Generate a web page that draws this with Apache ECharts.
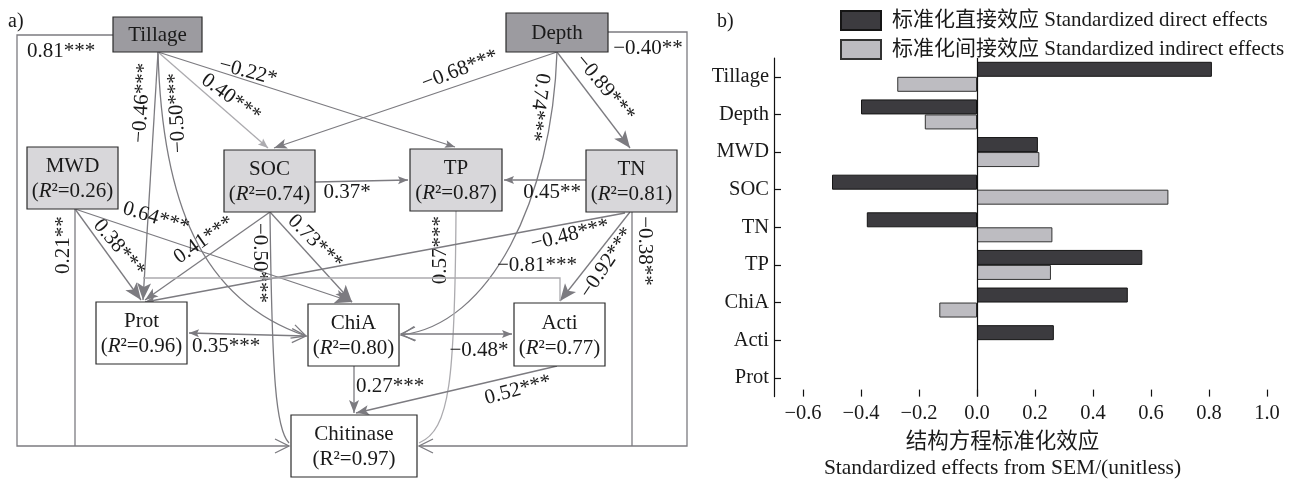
<!DOCTYPE html>
<html>
<head>
<meta charset="utf-8">
<script src="https://cdn.jsdelivr.net/npm/echarts@6/dist/echarts.min.js"></script>
<style>
html, body { margin: 0; padding: 0; background: #fff; }
#main { width: 1294px; height: 486px; }
</style>
</head>
<body>
<div id="main"></div>
<script>
// ---- panel b: standardized effects on chitinase ----
var effectVars = ['Tillage', 'Depth', 'MWD', 'SOC', 'TN', 'TP', 'ChiA', 'Acti', 'Prot'];
var directEffects = [0.81, -0.40, 0.21, -0.50, -0.38, 0.57, 0.52, 0.265, null];
var indirectEffects = [-0.275, -0.18, 0.215, 0.66, 0.26, 0.255, -0.13, null, null];
var effectTicks = [-0.6, -0.4, -0.2, 0.0, 0.2, 0.4, 0.6, 0.8, 1.0];

// ---- panel a: SEM path diagram ----
var nodeNames = ['Tillage', 'Depth', 'MWD', 'SOC', 'TP', 'TN', 'Prot', 'ChiA', 'Acti', 'Chitinase'];
var nodeR2 = [null, null, 0.26, 0.74, 0.87, 0.81, 0.96, 0.80, 0.77, 0.97];
var pathFrom = ['Tillage', 'Depth', 'MWD', 'TN', 'Tillage', 'Tillage', 'Tillage', 'Tillage', 'Depth', 'Depth',
                'Depth', 'SOC', 'TN', 'MWD', 'MWD', 'SOC', 'SOC', 'SOC', 'TP', 'TN',
                'TN', 'Prot', 'Prot', 'ChiA', 'ChiA', 'Acti'];
var pathTo = ['Chitinase', 'Chitinase', 'Chitinase', 'Chitinase', 'Prot', 'ChiA', 'SOC', 'TP', 'SOC', 'TN',
              'ChiA', 'TP', 'TP', 'Prot', 'ChiA', 'Prot', 'Chitinase', 'ChiA', 'Chitinase', 'Prot',
              'Acti', 'Acti', 'ChiA', 'Acti', 'Chitinase', 'Chitinase'];
var pathCoef = [0.81, -0.40, 0.21, -0.38, -0.46, -0.50, 0.40, -0.22, -0.68, -0.89,
                0.74, 0.37, 0.45, 0.38, 0.64, 0.41, -0.50, 0.73, 0.57, -0.48,
                -0.92, -0.81, 0.35, -0.48, 0.27, 0.52];
var pathSig = ['***', '**', '**', '**', '***', '***', '***', '*', '***', '***',
               '***', '*', '**', '***', '***', '***', '***', '***', '***', '***',
               '***', '***', '***', '*', '***', '***'];

// diagram layout (panel units = pixels of the left panel)
var nodeBoxes = [[113, 17, 202, 52], [506, 13, 608, 52], [27, 147, 118, 209], [224, 150, 315, 212],
                 [410, 149, 502, 211], [586, 150, 677, 212], [96, 302, 187, 364], [308, 304, 399, 366],
                 [514, 303, 605, 366], [291, 415, 417, 477]];
var nodeTone = ['dark', 'dark', 'light', 'light', 'light', 'light', 'white', 'white', 'white', 'white'];

// route: points (4 points + bez = cubic curve), heads [start,end], light line, label pos, label angle
var pathRoutes = [
    {pts: [[113, 35], [17, 35], [17, 446], [289, 446]], heads: [null, 'open'], lab: [61, 51], rot: 0},
    {pts: [[608, 32], [687, 32], [687, 446], [419, 446]], heads: [null, 'open'], lab: [648, 48], rot: 0},
    {pts: [[75, 209], [75, 446]], heads: [null, null], lab: [63, 245], rot: 90},
    {pts: [[632, 212], [632, 446]], heads: [null, null], lab: [645, 251], rot: -90},
    {pts: [[158, 52], [143, 300]], heads: [null, 'big'], lab: [142, 103], rot: 86},
    {pts: [[158, 52], [162, 200], [200, 300], [306, 336]], bez: true, heads: [null, 'open'], lab: [177, 113], rot: 93},
    {pts: [[158, 52], [268, 148]], heads: [null, 'small'], light: true, lab: [231, 98], rot: -36},
    {pts: [[158, 52], [455, 147]], heads: [null, 'small'], lab: [248, 72], rot: -15},
    {pts: [[557, 52], [274, 148]], heads: [null, 'mid'], lab: [460, 70], rot: 21},
    {pts: [[557, 52], [630, 148]], heads: [null, 'big'], lab: [605, 88], rot: -50},
    {pts: [[557, 52], [552, 200], [490, 325], [401, 335]], bez: true, heads: [null, 'open'], lab: [538, 107], rot: -98},
    {pts: [[315, 182], [408, 180]], heads: [null, 'small'], lab: [347, 192], rot: 0},
    {pts: [[586, 180], [504, 180]], heads: [null, 'small'], lab: [552, 192], rot: 0},
    {pts: [[75, 209], [141, 300]], heads: [null, 'big'], lab: [119, 248], rot: -50},
    {pts: [[75, 209], [352, 302]], heads: [null, 'big'], lab: [156, 218], rot: -17},
    {pts: [[270, 212], [145, 300]], heads: [null, 'mid'], lab: [204, 240], rot: 35},
    {pts: [[270, 212], [272, 380], [276, 430], [289, 443]], bez: true, heads: [null, null], lab: [260, 263], rot: -90},
    {pts: [[270, 212], [352, 302]], heads: [null, 'big'], lab: [315, 242], rot: -45},
    {pts: [[456, 211], [455, 380], [450, 430], [419, 443]], bez: true, heads: [null, null], light: true, lab: [440, 250], rot: 90},
    {pts: [[625, 213], [145, 302]], heads: [null, 'small'], lab: [570, 235], rot: 14},
    {pts: [[630, 212], [560, 301]], heads: [null, 'big'], lab: [607, 263], rot: 56},
    {pts: [[143, 278], [560, 278], [560, 301]], heads: [null, null], light: true, lab: [537, 265], rot: 0},
    {pts: [[189, 333], [306, 336]], heads: ['small', 'open'], lab: [226, 346], rot: 0},
    {pts: [[401, 334], [512, 334]], heads: ['open', 'small'], lab: [479, 350], rot: 0},
    {pts: [[354, 366], [354, 413]], heads: [null, 'mid'], lab: [390, 386], rot: 0},
    {pts: [[557, 366], [356, 413]], heads: [null, 'mid'], lab: [518, 390], rot: 15}
];

var FONT = '"Liberation Serif", "Noto Sans CJK SC", serif';
var lineDark = '#7c7b80';
var lineLight = '#acabaf';
var toneFill = {dark: '#9c9ba0', light: '#d8d7da', white: '#ffffff'};
var headSize = {
    big: {len: 17, w: 7, notch: 4},
    mid: {len: 13, w: 5, notch: 3},
    small: {len: 10, w: 4, notch: 2},
    open: {len: 14, w: 7}
};

function fmt(v, digits) {
    return (v < 0 ? '\u2212' : '') + Math.abs(v).toFixed(digits);
}

function arrowHead(from, tip, type, color) {
    var s = headSize[type];
    var dx = tip[0] - from[0], dy = tip[1] - from[1];
    var len = Math.sqrt(dx * dx + dy * dy);
    var ux = dx / len, uy = dy / len, nx = -uy, ny = ux;
    var bx = tip[0] - ux * s.len, by = tip[1] - uy * s.len;
    var p1 = [bx + nx * s.w, by + ny * s.w], p2 = [bx - nx * s.w, by - ny * s.w];
    if (type === 'open') {
        return {type: 'polyline', shape: {points: [p1, tip, p2]}, style: {stroke: color, fill: null, lineWidth: 1.3}};
    }
    var notch = [tip[0] - ux * (s.len - s.notch), tip[1] - uy * (s.len - s.notch)];
    return {type: 'polygon', shape: {points: [tip, p1, notch, p2]}, style: {fill: color}};
}

function renderPath(params, api) {
    var i = params.dataIndex;
    var r = pathRoutes[i];
    var pts = r.pts.map(function (p) { return api.coord(p); });
    var color = r.light ? lineLight : lineDark;
    var children = [];
    if (r.bez) {
        children.push({
            type: 'bezierCurve',
            shape: {x1: pts[0][0], y1: pts[0][1], cpx1: pts[1][0], cpy1: pts[1][1],
                    cpx2: pts[2][0], cpy2: pts[2][1], x2: pts[3][0], y2: pts[3][1]},
            style: {stroke: color, fill: null, lineWidth: 1.3}
        });
    } else {
        children.push({type: 'polyline', shape: {points: pts}, style: {stroke: color, fill: null, lineWidth: 1.3}});
    }
    var n = pts.length;
    if (r.heads[1]) children.push(arrowHead(pts[n - 2], pts[n - 1], r.heads[1], color));
    if (r.heads[0]) children.push(arrowHead(pts[1], pts[0], r.heads[0], color));
    var lp = api.coord(r.lab);
    children.push({
        type: 'text', x: lp[0], y: lp[1], rotation: r.rot * Math.PI / 180,
        style: {text: fmt(pathCoef[i], 2) + pathSig[i], fontSize: 21, fontFamily: FONT,
                fill: '#1a1a1a', align: 'center', verticalAlign: 'middle'}
    });
    return {type: 'group', children: children};
}

function renderNode(params, api) {
    var i = params.dataIndex;
    var b = nodeBoxes[i];
    var p0 = api.coord([b[0], b[1]]), p1 = api.coord([b[2], b[3]]);
    var txt = nodeNames[i];
    if (nodeR2[i] != null) {
        txt += nodeNames[i] === 'Chitinase'
            ? '\n(R\u00b2=' + nodeR2[i].toFixed(2) + ')'
            : '\n({i|R}\u00b2=' + nodeR2[i].toFixed(2) + ')';
    }
    return {
        type: 'group',
        children: [
            {type: 'rect', shape: {x: p0[0], y: p0[1], width: p1[0] - p0[0], height: p1[1] - p0[1]},
             style: {fill: toneFill[nodeTone[i]], stroke: '#2b2b2b', lineWidth: 1.2}},
            {type: 'text', x: (p0[0] + p1[0]) / 2, y: (p0[1] + p1[1]) / 2 + 1,
             style: {text: txt, fontSize: 21, fontFamily: FONT, fill: '#1a1a1a', lineHeight: 25,
                     align: 'center', verticalAlign: 'middle',
                     rich: {i: {fontStyle: 'italic', fontSize: 21, fontFamily: FONT, lineHeight: 25}}}}
        ]
    };
}

var chart = echarts.init(document.getElementById('main'));

var option = {
    animation: false,
    backgroundColor: '#fff',
    textStyle: {fontFamily: FONT, color: '#1a1a1a'},
    graphic: [
        {type: 'text', left: 8, top: 12, style: {text: 'a)', fontSize: 20, fontFamily: FONT, fill: '#1a1a1a'}},
        {type: 'text', left: 717, top: 12, style: {text: 'b)', fontSize: 20, fontFamily: FONT, fill: '#1a1a1a'}}
    ],
    legend: {
        data: ['标准化直接效应 Standardized direct effects', '标准化间接效应 Standardized indirect effects'],
        orient: 'vertical',
        left: 835,
        top: 5,
        icon: 'rect',
        itemWidth: 40,
        itemHeight: 19,
        itemGap: 8,
        textStyle: {fontSize: 21, fontFamily: FONT, color: '#1a1a1a', padding: [0, 0, 0, 6]}
    },
    grid: [
        {left: 0, top: 0, width: 700, height: 486, show: false},
        {left: 774, right: 27, top: 58, bottom: 83}
    ],
    xAxis: [
        {gridIndex: 0, type: 'value', min: 0, max: 700, show: false},
        {
            gridIndex: 1, type: 'value', min: -0.7, max: 1.0,
            name: '结构方程标准化效应\nStandardized effects from SEM/(unitless)',
            nameLocation: 'middle', nameGap: 27,
            nameTextStyle: {fontSize: 21.5, fontFamily: FONT, color: '#1a1a1a', lineHeight: 26,
                            verticalAlign: 'top', padding: [0, 36, 0, 0]},
            axisLine: {onZero: false, lineStyle: {color: '#111', width: 1.2}},
            axisTick: {show: true, inside: true, length: 7, customValues: effectTicks,
                       lineStyle: {color: '#111', width: 1.2}},
            axisLabel: {customValues: effectTicks, fontSize: 20.5, fontFamily: FONT, color: '#1a1a1a', margin: 7,
                        formatter: function (v) { return fmt(v, 1); }},
            splitLine: {show: false}
        }
    ],
    yAxis: [
        {gridIndex: 0, type: 'value', min: 0, max: 486, inverse: true, show: false},
        {
            gridIndex: 1, type: 'category', data: effectVars, inverse: true,
            axisLine: {show: true, onZero: false, lineStyle: {color: '#111', width: 1.2}},
            axisTick: {show: true, inside: true, alignWithLabel: true, length: 7,
                       lineStyle: {color: '#111', width: 1.2}},
            axisLabel: {fontSize: 20.5, fontFamily: FONT, color: '#1a1a1a', margin: 5},
            splitLine: {show: false}
        }
    ],
    series: [
        {
            type: 'custom', name: 'paths', xAxisIndex: 0, yAxisIndex: 0, z: 1,
            renderItem: renderPath,
            data: pathCoef.map(function (c, i) { return [i, 0]; })
        },
        {
            type: 'custom', name: 'nodes', xAxisIndex: 0, yAxisIndex: 0, z: 3,
            renderItem: renderNode,
            data: nodeNames.map(function (n, i) { return [i, 0]; })
        },
        {
            type: 'bar', name: '标准化直接效应 Standardized direct effects',
            xAxisIndex: 1, yAxisIndex: 1,
            data: directEffects, barWidth: 15, barGap: '0%',
            itemStyle: {color: '#3c3b3f', borderColor: '#151515', borderWidth: 1},
            markLine: {
                silent: true, symbol: 'none', label: {show: false},
                lineStyle: {color: '#111', width: 1.2, type: 'solid'},
                data: [{xAxis: 0}]
            }
        },
        {
            type: 'bar', name: '标准化间接效应 Standardized indirect effects',
            xAxisIndex: 1, yAxisIndex: 1,
            data: indirectEffects, barWidth: 15, barGap: '0%',
            itemStyle: {color: '#bdbcc1', borderColor: '#333', borderWidth: 1}
        }
    ]
};

chart.setOption(option);
</script>
</body>
</html>
